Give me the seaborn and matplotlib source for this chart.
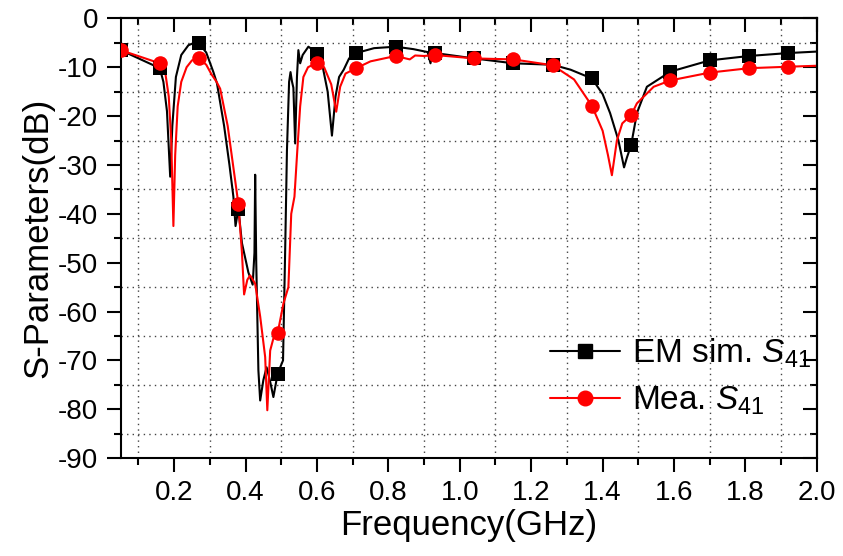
import matplotlib
matplotlib.use("Agg")
import matplotlib.pyplot as plt
from matplotlib.lines import Line2D
from matplotlib.ticker import MultipleLocator, FormatStrFormatter
import seaborn as sns

# ─── Данные ────────────────────────────────────────────────────────────────────
freq_sim = [0.05, 0.16, 0.17, 0.18, 0.189, 0.195, 0.205, 0.22, 0.24, 0.263, 0.27,
            0.29, 0.31, 0.32, 0.34, 0.355, 0.366, 0.372, 0.38, 0.39, 0.408, 0.42,
            0.425, 0.427, 0.43, 0.436, 0.441, 0.45, 0.459, 0.468, 0.478, 0.49,
            0.505, 0.511, 0.516, 0.522, 0.526, 0.53, 0.534, 0.539, 0.544, 0.548,
            0.553, 0.56, 0.576, 0.59, 0.6, 0.615, 0.63, 0.642, 0.652, 0.662,
            0.675, 0.69, 0.71, 0.76, 0.82, 0.87, 0.91, 0.918, 0.923, 0.93, 0.98,
            1.04, 1.15, 1.26, 1.31, 1.37, 1.40, 1.421, 1.444, 1.46, 1.468, 1.48,
            1.496, 1.524, 1.59, 1.70, 1.81, 1.92, 2.0]
s41_sim = [-6.5, -10.2, -13, -19, -32.4, -22, -12, -7.5, -5.5, -4.8, -5.1,
           -7, -11, -13.3, -22, -30, -36.5, -42.5, -39, -46, -52, -54.5,
           -48, -32, -50, -72, -78.2, -74, -71.4, -74, -77.5, -72.7,
           -70, -47.5, -27, -13, -11, -12.9, -14.2, -25.6, -12, -6.5,
           -9.2, -7.5, -5.8, -6.5, -7.3, -9.5, -15, -24, -16, -12,
           -10.5, -8.2, -7.1, -6.1, -5.8, -6.3, -6.9, -9.2, -7.2, -7.1, -7.6,
           -8.2, -9.2, -9.5, -10.5, -12.3, -15.5, -19.4, -24.9, -30.5, -28.5, -25.9,
           -19.4, -14, -10.9, -8.6, -7.7, -7.1, -6.8]

freq_mea = [0.05, 0.16, 0.175, 0.185, 0.192, 0.198, 0.203, 0.21, 0.22, 0.235, 0.25,
            0.27, 0.29, 0.305, 0.319, 0.329, 0.35, 0.365, 0.38, 0.39, 0.396, 0.405,
            0.413, 0.427, 0.441, 0.455, 0.461, 0.469, 0.478, 0.49, 0.506, 0.52,
            0.528, 0.537, 0.545, 0.553, 0.562, 0.575, 0.6, 0.62, 0.64, 0.654,
            0.665, 0.68, 0.71, 0.75, 0.82, 0.86, 0.875, 0.9, 0.93, 1.04, 1.15,
            1.26, 1.32, 1.37, 1.40, 1.415, 1.426, 1.44, 1.455, 1.48, 1.496, 1.543,
            1.59, 1.70, 1.81, 1.92, 2.0]
s41_mea = [-6.5, -9.2, -11, -16, -25, -42.5, -28, -18, -13, -10, -8.6,
           -8.2, -9.5, -11.5, -13, -14.4, -22, -30, -38, -48, -56.5, -53.5,
           -52.6, -54.3, -61, -69.3, -80.2, -68, -65.5, -64.4, -58.4, -55,
           -40, -36.5, -27, -18, -12, -10, -9.1, -10, -13.5, -19.1,
           -14, -11.3, -10.2, -8.8, -7.7, -8.4, -7.6, -7.7, -7.5, -8.2, -8.4,
           -9.6, -12.5, -17.9, -23, -28, -32.1, -25, -21.5, -19.8, -17.4, -14,
           -12.7, -11.1, -10.2, -9.9, -9.7]

# точки с символами (каждые 0.11 ГГц)
mark_freq = [0.05, 0.16, 0.27, 0.38, 0.49, 0.60, 0.71, 0.82, 0.93, 1.04, 1.15,
             1.26, 1.37, 1.48, 1.59, 1.70, 1.81, 1.92]
mark_sim = [-6.5, -10.2, -5.1, -39, -72.7, -7.3, -7.1, -5.8, -7.1, -8.2, -9.2,
            -9.5, -12.3, -25.9, -10.9, -8.6, -7.7, -7.1]
mark_mea = [-6.5, -9.2, -8.2, -38, -64.4, -9.1, -10.2, -7.7, -7.5, -8.2, -8.4,
            -9.6, -17.9, -19.8, -12.7, -11.1, -10.2, -9.9]

label_sim = r"EM sim. $S_{41}$"
label_mea = r"Mea. $S_{41}$"

# ─── Стиль ─────────────────────────────────────────────────────────────────────
sns.set_style("ticks")
plt.rcParams["font.family"] = ["Liberation Sans", "DejaVu Sans"]
plt.rcParams["mathtext.fontset"] = "custom"
plt.rcParams["mathtext.rm"] = "Liberation Sans"
plt.rcParams["mathtext.it"] = "Liberation Sans:italic"
plt.rcParams["axes.unicode_minus"] = False
for key in ["text.color", "axes.labelcolor", "xtick.color", "ytick.color",
            "xtick.labelcolor", "ytick.labelcolor", "axes.edgecolor"]:
    plt.rcParams[key] = "black"

fig = plt.figure(figsize=(8.43, 5.56), dpi=100)
ax = fig.add_axes([0.143, 0.176, 0.826, 0.791])

# ─── Кривые ────────────────────────────────────────────────────────────────────
sns.lineplot(x=freq_sim, y=s41_sim, color="black", lw=1.5, estimator=None, ax=ax)
sns.scatterplot(x=mark_freq, y=mark_sim, marker="s", color="black", s=95,
                linewidth=0, ax=ax, zorder=3)
sns.lineplot(x=freq_mea, y=s41_mea, color="red", lw=1.5, estimator=None, ax=ax)
sns.scatterplot(x=mark_freq, y=mark_mea, marker="o", color="red", s=110,
                linewidth=0, ax=ax, zorder=4)

# ─── Оси ───────────────────────────────────────────────────────────────────────
ax.set_xlim(0.05, 2.0)
ax.set_ylim(-90, 0)
ax.xaxis.set_major_locator(MultipleLocator(0.2))
ax.xaxis.set_minor_locator(MultipleLocator(0.1))
ax.xaxis.set_major_formatter(FormatStrFormatter("%.1f"))
ax.yaxis.set_major_locator(MultipleLocator(10))
ax.yaxis.set_minor_locator(MultipleLocator(5))

ax.tick_params(which="major", direction="out", length=10, width=1.5,
               labelsize=20, pad=6, color="black", labelcolor="black")
ax.tick_params(which="minor", direction="out", length=5, width=1.5, color="black")
ax.grid(which="minor", color="#444444", linestyle=(0, (1, 3)), linewidth=1)
ax.grid(which="major", visible=False)

for sp in ax.spines.values():
    sp.set_linewidth(1.5)
    sp.set_color("black")

# зеркальные тики сверху и справа (внутрь)
secx = ax.secondary_xaxis("top")
secx.xaxis.set_major_locator(MultipleLocator(0.2))
secx.xaxis.set_minor_locator(MultipleLocator(0.1))
secx.tick_params(which="major", direction="in", length=10, width=1.5, labeltop=False)
secx.tick_params(which="minor", direction="in", length=5, width=1.5)
secx.spines["top"].set_linewidth(1.5)

secy = ax.secondary_yaxis("right")
secy.yaxis.set_major_locator(MultipleLocator(10))
secy.yaxis.set_minor_locator(MultipleLocator(5))
secy.tick_params(which="major", direction="in", length=10, width=1.5, labelright=False)
secy.tick_params(which="minor", direction="in", length=5, width=1.5)
secy.spines["right"].set_linewidth(1.5)

ax.set_xlabel("Frequency(GHz)", fontsize=25, labelpad=2)
ax.set_ylabel("S-Parameters(dB)", fontsize=25, labelpad=3)

# ─── Легенда ───────────────────────────────────────────────────────────────────
handles = [
    Line2D([], [], color="black", lw=1.5, marker="s", markersize=9.5),
    Line2D([], [], color="red", lw=1.5, marker="o", markersize=10.5),
]
ax.legend(handles, [label_sim, label_mea], loc="center left",
          bbox_to_anchor=(0.574, 0.185), frameon=False, fontsize=24,
          handlelength=2.1, handletextpad=0.35, labelspacing=0.45)

fig.savefig("out.png", dpi=100)
